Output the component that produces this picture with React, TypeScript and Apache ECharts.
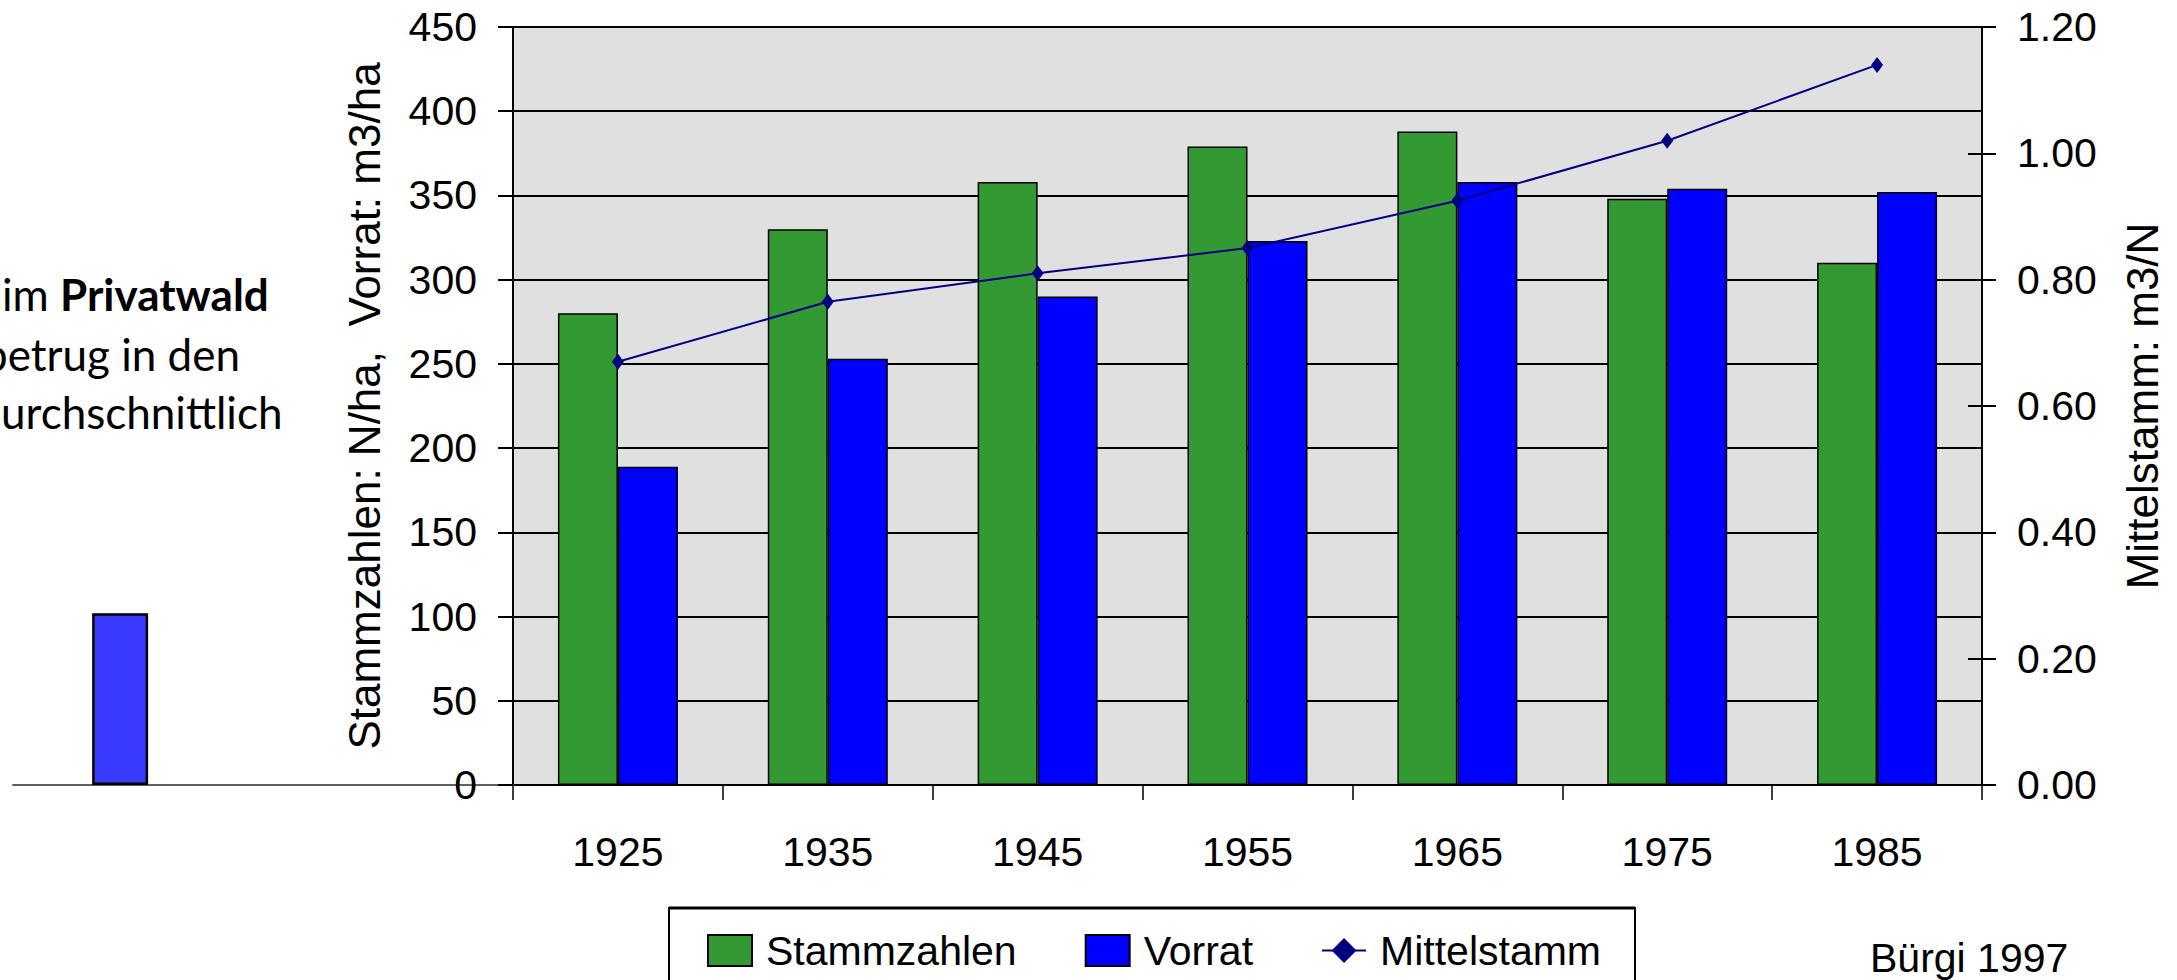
import React, { useEffect, useRef } from "react";
import * as echarts from "echarts";

const years = ["1925", "1935", "1945", "1955", "1965", "1975", "1985"];
const stammzahlen = [280, 330, 358, 379, 388, 348, 310];
const vorrat = [189, 253, 290, 323, 358, 354, 352];
const mittelstamm = [0.67, 0.765, 0.81, 0.85, 0.925, 1.02, 1.14];

// fragment of a neighbouring chart on the slide (only one bar visible)
const leftChartCategories = ["", "", "", "", "", "", ""];
const leftChartBar = [null, 102, null, null, null, null, null];

const leftTitle = "Stammzahlen: N/ha,  Vorrat: m3/ha";
const rightTitle = "Mittelstamm: m3/N";
const legendNames = ["Stammzahlen", "Vorrat", "Mittelstamm"];
const sourceText = "Bürgi 1997";

const FONT = "'Liberation Sans', Arial, sans-serif";
const SLIDE_FONT = "Lato, 'Open Sans', sans-serif";

export default function App() {
  const ref = useRef<HTMLDivElement>(null);

  useEffect(() => {
    document.body.style.margin = "0";
    if (!ref.current) return;
    const chart = echarts.init(ref.current, null, { renderer: "svg" });
    const option: any = {
      animation: false,
      backgroundColor: "#ffffff",
      textStyle: { fontFamily: FONT },
      grid: [
        {
          left: 513,
          right: 195,
          top: 27,
          bottom: 195,
          show: true,
          backgroundColor: "#e0e0e0",
          borderWidth: 0,
        },
        { left: 13, width: 500, top: 27, bottom: 195 },
      ],
      xAxis: [
        {
          type: "category",
          gridIndex: 0,
          data: years,
          axisLine: { lineStyle: { color: "#000", width: 2 } },
          axisTick: { show: true, length: 15, lineStyle: { color: "#000", width: 1.5 } },
          axisLabel: { fontSize: 41, color: "#000", margin: 46, fontFamily: FONT },
          splitLine: { show: false },
        },
        {
          type: "category",
          gridIndex: 1,
          data: leftChartCategories,
          axisLine: { lineStyle: { color: "#606060", width: 2 } },
          axisTick: { show: false },
          axisLabel: { show: false },
          splitLine: { show: false },
        },
      ],
      yAxis: [
        {
          type: "value",
          gridIndex: 0,
          position: "left",
          min: 0,
          max: 450,
          interval: 50,
          name: leftTitle,
          nameLocation: "middle",
          nameRotate: 90,
          nameGap: 127,
          nameTextStyle: { fontSize: 44, color: "#000", fontFamily: FONT },
          axisLine: { show: true, lineStyle: { color: "#000", width: 2 } },
          axisTick: { show: true, length: 15, lineStyle: { color: "#000", width: 2 } },
          axisLabel: { fontSize: 41, color: "#000", margin: 36, fontFamily: FONT },
          splitLine: { show: true, lineStyle: { color: "#000", width: 2 } },
        },
        {
          type: "value",
          gridIndex: 0,
          position: "right",
          min: 0,
          max: 1.2,
          interval: 0.2,
          name: rightTitle,
          nameLocation: "middle",
          nameRotate: 90,
          nameGap: 138,
          nameTextStyle: { fontSize: 44, color: "#000", fontFamily: FONT },
          axisLine: { show: true, lineStyle: { color: "#000", width: 2 } },
          axisTick: { show: true, length: 14, lineStyle: { color: "#000", width: 2 } },
          axisLabel: {
            fontSize: 41,
            color: "#000",
            margin: 35,
            fontFamily: FONT,
            formatter: (v: number) => v.toFixed(2),
          },
          splitLine: { show: false },
        },
        {
          type: "value",
          gridIndex: 0,
          position: "right",
          min: 0,
          max: 1.2,
          interval: 0.2,
          axisLine: { show: false },
          axisTick: { show: true, inside: true, length: 14, lineStyle: { color: "#000", width: 2 } },
          axisLabel: { show: false },
          splitLine: { show: false },
        },
        { type: "value", gridIndex: 1, min: 0, max: 450, show: false },
      ],
      legend: {
        left: 702,
        top: 925,
        itemWidth: 44,
        itemHeight: 31,
        itemGap: 68,
        textStyle: { fontSize: 41, color: "#000", fontFamily: FONT, padding: [0, 0, 0, 9] },
        data: [
          { name: legendNames[0], icon: "rect" },
          { name: legendNames[1], icon: "rect" },
          { name: legendNames[2] },
        ],
      },
      series: [
        {
          name: legendNames[0],
          type: "bar",
          xAxisIndex: 0,
          yAxisIndex: 0,
          data: stammzahlen,
          barWidth: 60,
          barGap: "0%",
          itemStyle: { color: "#339933", borderColor: "#000", borderWidth: 1.5 },
        },
        {
          name: legendNames[1],
          type: "bar",
          xAxisIndex: 0,
          yAxisIndex: 0,
          data: vorrat,
          barWidth: 60,
          barGap: "0%",
          itemStyle: { color: "#0000ff", borderColor: "#000", borderWidth: 1.5 },
        },
        {
          name: legendNames[2],
          type: "line",
          xAxisIndex: 0,
          yAxisIndex: 1,
          data: mittelstamm,
          symbol: "diamond",
          symbolSize: [12, 16],
          lineStyle: { color: "#000080", width: 2 },
          itemStyle: { color: "#000080" },
          z: 5,
        },
        {
          name: "links",
          type: "bar",
          xAxisIndex: 1,
          yAxisIndex: 3,
          data: leftChartBar,
          barWidth: 56,
          itemStyle: { color: "#3b3bff", borderColor: "#000", borderWidth: 2.5 },
        },
      ],
      graphic: [
        {
          type: "rect",
          z: 0,
          shape: { x: 669, y: 908, width: 966, height: 120 },
          style: { fill: "#ffffff", stroke: "#000", lineWidth: 2 },
        },
        {
          type: "line",
          z: 1,
          shape: { x1: 669, y1: 908, x2: 1635, y2: 908 },
          style: { stroke: "#000", lineWidth: 3 },
        },
        {
          type: "text",
          x: 1870,
          y: 958,
          style: {
            text: sourceText,
            fontSize: 41,
            fontFamily: FONT,
            fill: "#000",
            verticalAlign: "middle",
          },
        },
        {
          type: "text",
          x: 2,
          y: 294,
          style: {
            text: "{a|im }{b|Privatwald}",
            fill: "#000",
            verticalAlign: "middle",
            rich: {
              a: { fontSize: 44, fontFamily: SLIDE_FONT, fill: "#000" },
              b: { fontSize: 44, fontFamily: SLIDE_FONT, fontWeight: "bold", fill: "#000" },
            },
          },
        },
        {
          type: "text",
          x: 240,
          y: 354,
          style: {
            text: "betrug in den",
            fontSize: 44,
            fontFamily: SLIDE_FONT,
            fill: "#000",
            align: "right",
            verticalAlign: "middle",
          },
        },
        {
          type: "text",
          x: 1,
          y: 412,
          style: {
            text: "urchschnittlich",
            fontSize: 44,
            fontFamily: SLIDE_FONT,
            fill: "#000",
            align: "left",
            verticalAlign: "middle",
          },
        },
      ],
    };
    chart.setOption(option);
    return () => chart.dispose();
  }, []);

  return <div ref={ref} style={{ width: 2177, height: 980 }} />;
}
